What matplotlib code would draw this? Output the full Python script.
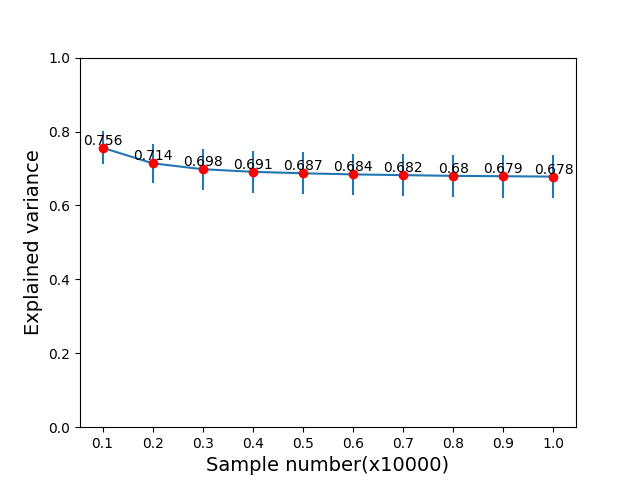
import matplotlib
matplotlib.use("Agg")
import matplotlib.pyplot as plt

# 数据
sample_num = [0.1, 0.2, 0.3, 0.4, 0.5, 0.6, 0.7, 0.8, 0.9, 1.0]
explained_var = [0.756, 0.714, 0.698, 0.691, 0.687, 0.684, 0.682, 0.68, 0.679, 0.678]
var_err = [0.045, 0.052, 0.056, 0.057, 0.057, 0.055, 0.056, 0.057, 0.058, 0.058]

plt.figure(figsize=(6.4, 4.8), dpi=100)
plt.errorbar(sample_num, explained_var, yerr=var_err)
plt.scatter(sample_num, explained_var, c='red', zorder=3)
for x, y in zip(sample_num, explained_var):
    plt.text(x, y, str(y), ha='center', va='bottom', fontsize=10)

plt.ylim(0, 1)
plt.xticks(sample_num)
plt.xlabel('Sample number(x10000)', fontsize=14)
plt.ylabel('Explained variance', fontsize=14)
plt.savefig("out.png")
